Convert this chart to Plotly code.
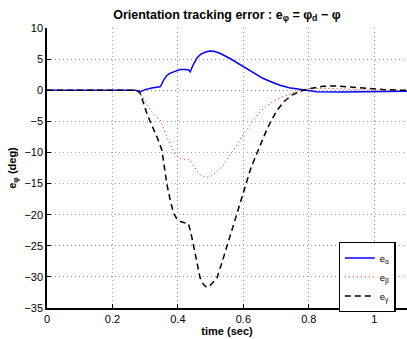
import plotly.graph_objects as go

# e_alpha
t_alpha = [0, 0.27, 0.285, 0.30, 0.32, 0.345, 0.35, 0.356, 0.365, 0.375, 0.387, 0.397, 0.407, 0.42, 0.432, 0.4375,
           0.445, 0.458, 0.47, 0.485, 0.498, 0.51, 0.53, 0.559, 0.585, 0.61, 0.635, 0.661, 0.69, 0.712, 0.74,
           0.773, 0.80, 0.824, 0.9, 1.0, 1.1]
e_alpha = [0, 0, -0.25, 0.1, 0.35, 0.55, 0.9, 1.6, 2.3, 2.7, 2.95, 3.2, 3.32, 3.35, 3.3, 2.95,
           3.9, 5.2, 5.8, 6.15, 6.3, 6.25, 5.9, 5.1, 4.3, 3.5, 2.65, 1.88, 1.25, 0.8, 0.4,
           0.1, -0.12, -0.25, -0.3, -0.25, -0.15]

# e_beta
t_beta = [0, 0.275, 0.285, 0.30, 0.316, 0.33, 0.346, 0.356, 0.366, 0.38, 0.392, 0.407, 0.42, 0.4375, 0.45,
          0.468, 0.488, 0.50, 0.519, 0.54, 0.559, 0.585, 0.61, 0.635, 0.661, 0.685, 0.707, 0.74, 0.773,
          0.803, 0.85, 0.9, 0.95, 1.0, 1.1]
e_beta = [0, 0, -0.5, -1.9, -3.2, -4.1, -4.8, -6.0, -7.5, -9.1, -10.4, -11.0, -11.1, -11.2, -12.3,
          -13.6, -14.0, -13.9, -13.1, -12.0, -10.4, -8.4, -6.4, -4.5, -2.94, -2.0, -1.33, -0.6, 0,
          0.27, 0.3, 0.2, 0.1, 0.03, 0]

# e_gamma
t_gamma = [0, 0.275, 0.285, 0.305, 0.32, 0.336, 0.351, 0.358, 0.366, 0.377, 0.387, 0.397, 0.407, 0.42,
           0.432, 0.44, 0.448, 0.458, 0.468, 0.478, 0.488, 0.50, 0.519, 0.534, 0.549, 0.565, 0.58, 0.605,
           0.623, 0.641, 0.656, 0.671, 0.686, 0.702, 0.725, 0.747, 0.778, 0.803, 0.844, 0.885, 0.925,
           0.976, 1.027, 1.08, 1.1]
e_gamma = [0, 0, -0.5, -3.7, -5.6, -7.5, -9.6, -12.0, -15.0, -17.8, -19.8, -20.7, -21.1, -21.3,
           -21.4, -23.0, -25.2, -27.8, -30.2, -31.2, -31.7, -31.3, -30.2, -27.8, -25.2, -22.5, -19.8, -15.3,
           -12.5, -10.2, -8.2, -6.4, -4.8, -3.3, -1.8, -0.8, -0.1, 0.27, 0.64, 0.7, 0.53,
           0.27, 0.11, 0, 0]

x_ticks = [0, 0.2, 0.4, 0.6, 0.8, 1.0]
x_labels = ["0", "0.2", "0.4", "0.6", "0.8", "1"]
y_ticks = [-35, -30, -25, -20, -15, -10, -5, 0, 5, 10]

FONT = "Liberation Sans, Arial, sans-serif"

fig = go.Figure()
fig.add_trace(go.Scatter(x=t_alpha, y=e_alpha, mode="lines", name="e<sub>α</sub>",
                         line=dict(color="#0000ff", width=1.5)))
fig.add_trace(go.Scatter(x=t_beta, y=e_beta, mode="lines", name="e<sub>β</sub>",
                         line=dict(color="#ff0000", width=1, dash="1px,3px")))
fig.add_trace(go.Scatter(x=t_gamma, y=e_gamma, mode="lines", name="e<sub>γ</sub>",
                         line=dict(color="#000000", width=1.5, dash="6px,4px")))

axis_common = dict(
    showgrid=True, gridcolor="#a0a0a0", gridwidth=1, griddash="1px,3px",
    zeroline=False, showline=True, linecolor="black", linewidth=1.5,
    ticks="inside", ticklen=4, tickcolor="black",
    tickfont=dict(family=FONT, size=11, color="black"),
)

fig.update_layout(
    width=407, height=339,
    margin=dict(l=47, r=0, t=28, b=31),
    paper_bgcolor="white", plot_bgcolor="white",
    font=dict(family=FONT, color="black"),
    title=dict(text="<b>Orientation tracking error : e<sub>φ</sub> = φ<sub>d</sub> − φ</b>",
               x=0.5575, xanchor="center", y=0.958, yanchor="middle",
               font=dict(family=FONT, size=12.5, color="black")),
    xaxis=dict(range=[0, 1.1], tickvals=x_ticks, ticktext=x_labels,
               title=dict(text="<b>time (sec)</b>", font=dict(family=FONT, size=11), standoff=2),
               **axis_common),
    yaxis=dict(range=[-35, 10], tickvals=y_ticks,
               title=dict(text="<b>e<sub>φ</sub> (deg)</b>", font=dict(family=FONT, size=11), standoff=6),
               **axis_common),
    legend=dict(x=0.81, y=0.235, xanchor="left", yanchor="top",
                bgcolor="white", bordercolor="black", borderwidth=1.2,
                font=dict(family=FONT, size=9.5), itemwidth=30, tracegroupgap=0),
    showlegend=True,
)

fig.write_html("out.html")
